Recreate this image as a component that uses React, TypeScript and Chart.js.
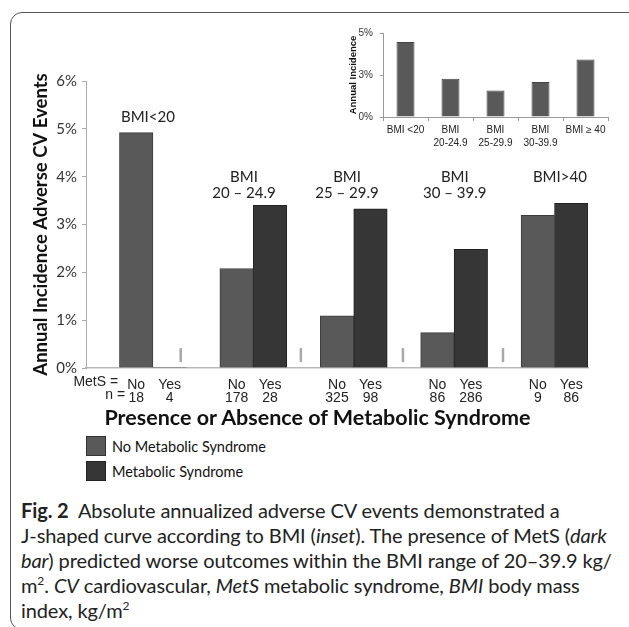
import React, { useEffect, useRef } from "react";
import { Chart, registerables } from "chart.js";

Chart.register(...registerables);

// ---------- main chart data ----------
const groupNames: string[][] = [
  ["BMI<20"],
  ["BMI", "20 – 24.9"],
  ["BMI", "25 – 29.9"],
  ["BMI", "30 – 39.9"],
  ["BMI>40"],
];
const noValues = [4.92, 2.08, 1.09, 0.74, 3.19];
const yesValues = [0, 3.4, 3.33, 2.48, 3.44];
const noCounts = ["18", "178", "325", "86", "9"];
const yesCounts = ["4", "28", "98", "286", "86"];
const metsLabels = ["No", "Yes"];
const rowLabels = ["MetS =", "n ="];
const rowLabelPositions = [0.46, 0.67];
const separatorPositions = [2.33, 5.92, 8.97, 11.96];
const separatorLevel = 0.27;
const groupLabelPositions = [1.35, 4.22, 7.3, 10.52, 13.66];
const groupLabelLevels = [5.25, 4, 4, 4, 4];
const yMax = 6;
const yStep = 1;

// ---------- inset data ----------
const insetCategories: (string | string[])[] = [
  "BMI <20",
  ["BMI", "20-24.9"],
  ["BMI", "25-29.9"],
  ["BMI", "30-39.9"],
  "BMI ≥ 40",
];
const insetValues = [4.47, 2.28, 1.57, 2.08, 3.43];
const insetMax = 5;
const insetStep = 2.5;

const NO_COLOR = "#595959";
const YES_COLOR = "#363636";

function buildMain() {
  const labels: (string | string[])[] = [];
  const noData: (number | null)[] = [];
  const yesData: (number | null)[] = [];
  groupNames.forEach((_, g) => {
    labels.push("");
    noData.push(null);
    yesData.push(null);
    labels.push([metsLabels[0], noCounts[g]]);
    noData.push(noValues[g]);
    yesData.push(null);
    labels.push([metsLabels[1], yesCounts[g]]);
    noData.push(null);
    yesData.push(yesValues[g]);
  });
  return { labels, noData, yesData };
}

const textPlugin = {
  id: "groupText",
  afterDatasetsDraw(chart: any) {
    const { ctx } = chart;
    const xs = chart.scales.xm;
    const ys = chart.scales.y;
    ctx.save();
    ctx.fillStyle = "#222";
    ctx.font = "15px Lato";
    ctx.textAlign = "center";
    ctx.textBaseline = "middle";
    groupNames.forEach((lines, i) => {
      const x = xs.getPixelForValue(groupLabelPositions[i]);
      const y0 = ys.getPixelForValue(groupLabelLevels[i]);
      lines.forEach((t, k) => ctx.fillText(t, x, y0 + k * 16));
    });
    ctx.font = '14px "Liberation Sans", Arial';
    ctx.textAlign = "right";
    rowLabels.forEach((t, k) => {
      ctx.fillText(t, xs.getPixelForValue(rowLabelPositions[k]), ys.bottom + 14.5 + k * 12.8);
    });
    ctx.restore();
  },
};

export default function App() {
  const mainRef = useRef<HTMLCanvasElement>(null);
  const insetRef = useRef<HTMLCanvasElement>(null);

  useEffect(() => {
    const { labels, noData, yesData } = buildMain();
    const main = new Chart(mainRef.current!, {
      type: "bar",
      data: {
        labels,
        datasets: [
          {
            label: "No Metabolic Syndrome",
            data: noData,
            backgroundColor: NO_COLOR,
            borderColor: "#3c3c3c",
            borderWidth: 1,
            grouped: false,
            barPercentage: 1,
            categoryPercentage: 1,
            xAxisID: "x",
          } as any,
          {
            label: "Metabolic Syndrome",
            data: yesData,
            backgroundColor: YES_COLOR,
            borderColor: "#222",
            borderWidth: (c: any) => (c.raw ? 1 : 0),
            grouped: false,
            barPercentage: 1,
            categoryPercentage: 1,
            xAxisID: "x",
          } as any,
          {
            type: "scatter",
            label: "sep",
            data: separatorPositions.map((p) => ({ x: p, y: separatorLevel })),
            xAxisID: "xm",
            yAxisID: "y",
            pointStyle: "line",
            rotation: 90,
            radius: 7,
            borderColor: "#a8a8a8",
            borderWidth: 2.5,
          } as any,
        ],
      },
      options: {
        animation: false,
        responsive: false,
        maintainAspectRatio: false,
        layout: { padding: { top: 81, right: 41, left: 0, bottom: 0 } },
        plugins: { legend: { display: false }, tooltip: { enabled: false } },
        scales: {
          x: {
            type: "category",
            offset: true,
            grid: { display: false },
            border: { display: true, color: "#b8b8b8", width: 1.5 },
            ticks: {
              autoSkip: false,
              maxRotation: 0,
              minRotation: 0,
              padding: 3,
              color: "#222",
              font: { family: '"Liberation Sans", Arial', size: 14, lineHeight: 0.92 },
            },
            afterFit: (s: any) => {
              s.height = 42;
            },
          },
          xm: {
            type: "linear",
            display: false,
            min: -0.5,
            max: 14.5,
            offset: false,
          },
          y: {
            min: 0,
            max: yMax,
            ticks: {
              stepSize: yStep,
              callback: (v: any) => v + "%",
              color: "#333",
              padding: 5,
              font: { family: "Lato", size: 15 },
            },
            grid: { drawOnChartArea: false, tickLength: 4, color: "#aaa" },
            border: { color: "#aaa", width: 1 },
            title: {
              display: true,
              text: "Annual Incidence Adverse CV Events",
              color: "#111",
              font: { family: "Lato", size: 18.5, weight: "bold" },
              padding: { top: 30, bottom: 0 },
            },
            afterFit: (s: any) => {
              s.width = 86;
            },
          },
        },
      } as any,
      plugins: [textPlugin],
    });

    const inset = new Chart(insetRef.current!, {
      type: "bar",
      data: {
        labels: insetCategories,
        datasets: [
          {
            label: "Annual Incidence",
            data: insetValues,
            backgroundColor: NO_COLOR,
            borderColor: "#444",
            borderWidth: 1,
            barPercentage: 0.4,
            categoryPercentage: 1,
          },
        ],
      },
      options: {
        animation: false,
        responsive: false,
        maintainAspectRatio: false,
        layout: { padding: { top: 12, right: 12, left: 0, bottom: 0 } },
        plugins: { legend: { display: false }, tooltip: { enabled: false } },
        scales: {
          x: {
            grid: { drawOnChartArea: false, tickLength: 4, color: "#999", offset: true },
            border: { color: "#999" },
            ticks: {
              autoSkip: false,
              maxRotation: 0,
              padding: 3,
              color: "#222",
              font: { family: '"Liberation Sans", Arial', size: 10, lineHeight: 1.3 },
            },
            afterFit: (s: any) => {
              s.height = 38;
            },
          },
          y: {
            min: 0,
            max: insetMax,
            ticks: {
              stepSize: insetStep,
              callback: (v: any) => Math.round(v) + "%",
              color: "#333",
              padding: 7,
              font: { family: '"Liberation Sans", Arial', size: 10 },
            },
            grid: { drawOnChartArea: false, tickLength: 3, color: "#999" },
            border: { color: "#999" },
            title: {
              display: true,
              text: "Annual Incidence",
              color: "#111",
              font: { family: '"Liberation Sans", Arial', size: 9.5, weight: "bold" },
              padding: { top: 7.6, bottom: 0 },
            },
            afterFit: (s: any) => {
              s.width = 43;
            },
          },
        },
      } as any,
    });

    return () => {
      main.destroy();
      inset.destroy();
    };
  }, []);

  const legendItem = (color: string, border: string, text: string, top: number) => (
    <div style={{ position: "absolute", left: 86, top, height: 20, display: "flex", alignItems: "center" }}>
      <div style={{ width: 18, height: 18, background: color, border: `1px solid ${border}` }} />
      <span style={{ marginLeft: 6, fontFamily: "Lato", fontSize: 14.5, color: "#111", whiteSpace: "nowrap" }}>{text}</span>
    </div>
  );

  const capStyle: React.CSSProperties = {
    whiteSpace: "nowrap",
    height: 25,
    lineHeight: "25px",
  };

  return (
    <div
      style={{
        position: "absolute",
        left: 0,
        top: 0,
        width: 629,
        height: 627,
        overflow: "hidden",
        background: "#fff",
      }}
    >
      <div
        style={{
          position: "absolute",
          left: 10,
          top: 12,
          width: 700,
          height: 618,
          border: "1.5px solid #555",
          borderRadius: 12,
          boxSizing: "border-box",
        }}
      />
      <canvas
        ref={mainRef}
        width={629}
        height={410}
        style={{ position: "absolute", left: 0, top: 0, width: 629, height: 410 }}
      />
      <canvas
        ref={insetRef}
        width={280}
        height={135}
        style={{ position: "absolute", left: 340, top: 20, width: 280, height: 135, background: "#fff" }}
      />
      <div
        style={{
          position: "absolute",
          left: 0,
          width: 635,
          top: 404,
          textAlign: "center",
          fontFamily: "Lato",
          fontWeight: "bold",
          fontSize: 21.5,
          color: "#111",
          whiteSpace: "nowrap",
        }}
      >
        Presence or Absence of Metabolic Syndrome
      </div>
      {legendItem(NO_COLOR, "#333", "No Metabolic Syndrome", 436)}
      {legendItem(YES_COLOR, "#222", "Metabolic Syndrome", 461)}
      <div
        style={{
          position: "absolute",
          left: 21,
          top: 498,
          fontFamily: "Lato",
          fontSize: 20,
          color: "#222",
          letterSpacing: -0.1,
        }}
      >
        <div style={capStyle}>
          <b>Fig. 2</b>&nbsp; Absolute annualized adverse CV events demonstrated a
        </div>
        <div style={capStyle}>
          J-shaped curve according to BMI (<i>inset</i>). The presence of MetS (<i>dark</i>
        </div>
        <div style={capStyle}>
          <i>bar</i>) predicted worse outcomes within the BMI range of 20–39.9 kg/
        </div>
        <div style={capStyle}>
          m<sup style={{ fontSize: 12, lineHeight: 0 }}>2</sup>. <i>CV</i> cardiovascular, <i>MetS</i> metabolic syndrome, <i>BMI</i> body mass
        </div>
        <div style={capStyle}>
          index, kg/m<sup style={{ fontSize: 12, lineHeight: 0 }}>2</sup>
        </div>
      </div>
    </div>
  );
}
